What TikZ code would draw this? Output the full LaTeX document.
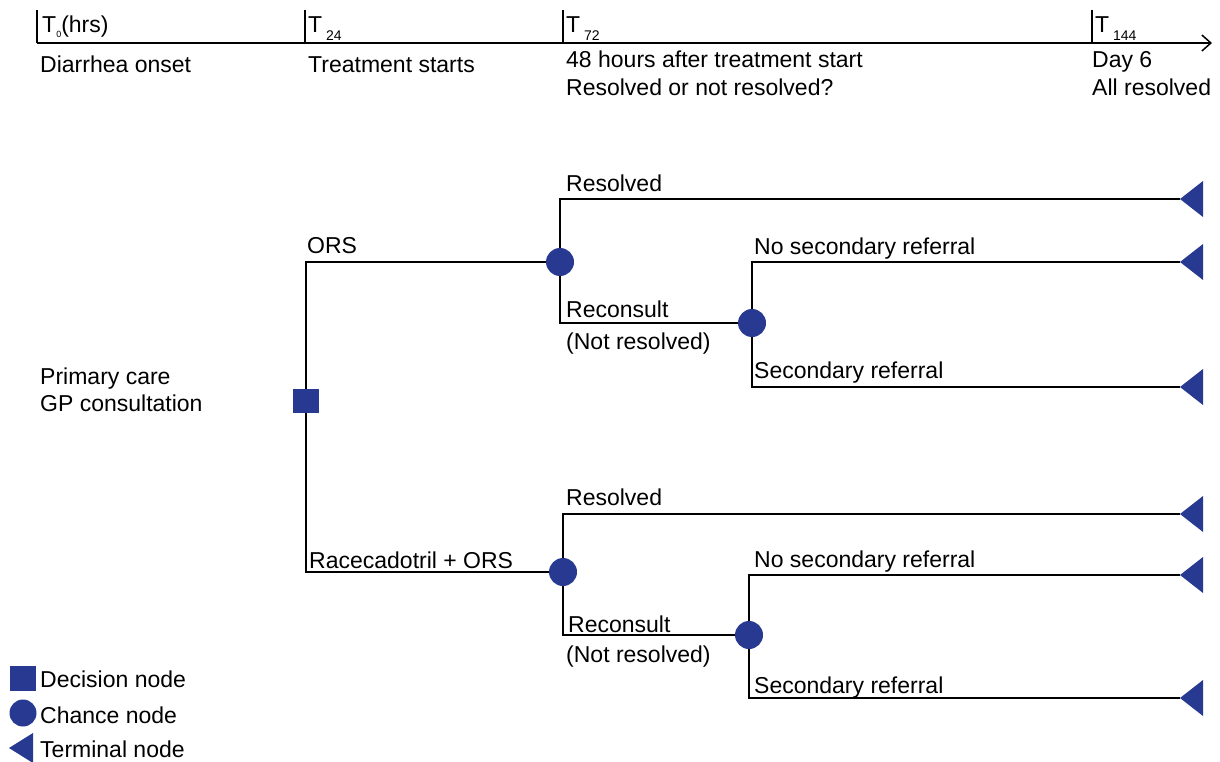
\documentclass[tikz,border=0pt]{standalone}
\usepackage{fontspec}
\setmainfont{Liberation Sans}
\usetikzlibrary{arrows.meta}
\definecolor{nodeblue}{RGB}{40,57,145}
\newcommand{\sbs}[1]{\raisebox{-7.5pt}{\fontsize{14}{14}\selectfont #1}}
\newcommand{\sbz}[1]{\raisebox{-5pt}{\fontsize{9}{9}\selectfont #1}}
\begin{document}
\begin{tikzpicture}[x=1pt,y=-1pt,
  lbl/.style={anchor=base west,inner sep=0pt,font=\fontsize{23}{23}\selectfont},
  branch/.style={line width=2pt,black},
  decision/.style={rectangle,fill=nodeblue,minimum width=26pt,minimum height=24pt,inner sep=0pt},
  chance/.style={circle,fill=nodeblue,minimum size=28pt,inner sep=0pt},
  terminal/.style={fill=nodeblue},
  tick/.style={line width=1.3pt}]
\useasboundingbox (0,0) rectangle (1220,762);
% timeline
\coordinate (tl0) at (37,43);
\coordinate (tlend) at (1212,43);
\draw[line width=2pt,-{Straight Barb[length=9pt,width=16pt,line width=1.5pt]}] (tl0) -- (tlend);
\coordinate (k0) at (37,10);
\coordinate (k24) at (305,10);
\coordinate (k72) at (563,10);
\coordinate (k144) at (1092,10);
\foreach \k in {k0,k24,k72,k144} \draw[tick] (\k) -- (\k |- tl0);
\node[lbl] (lt0) at (42,33) {T\sbz{0}(hrs)};
\node[lbl] (lt24) at (308,33) {T\,\sbs{24}};
\node[lbl] (lt72) at (566,33) {T\,\sbs{72}};
\node[lbl] (lt144) at (1095,33) {T\,\sbs{144}};
\node[lbl] (onset) at (40,73) {Diarrhea onset};
\node[lbl] (tstart) at (308,73) {Treatment starts};
\node[lbl] (h48) at (566,68) {48 hours after treatment start};
\node[lbl] (resq) at (566,96) {Resolved or not resolved?};
\node[lbl] (day6) at (1092,68) {Day 6};
\node[lbl] (allres) at (1092,96) {All resolved};
% tree nodes
\node[decision] (dec) at (306,401) {};
\node[chance] (c1) at (560,262) {};
\node[chance] (c2) at (752,323) {};
\node[chance] (c3) at (563,572) {};
\node[chance] (c4) at (749,635) {};
\coordinate (t1) at (1180,199);
\coordinate (t2) at (1180,262);
\coordinate (t3) at (1180,387);
\coordinate (t4) at (1180,514);
\coordinate (t5) at (1180,575);
\coordinate (t6) at (1180,698);
% branches
\draw[branch] (dec) |- (c1);
\draw[branch] (dec) |- (c3);
\draw[branch] (c1) |- (t1);
\draw[branch] (c1) |- (c2);
\draw[branch] (c2) |- (t2);
\draw[branch] (c2) |- (t3);
\draw[branch] (c3) |- (t4);
\draw[branch] (c3) |- (c4);
\draw[branch] (c4) |- (t5);
\draw[branch] (c4) |- (t6);
\foreach \t in {t1,t2,t3,t4,t5,t6}
  \fill[terminal] (\t) -- ++(23,-18) -- ++(0,36) -- cycle;
% labels
\node[lbl] (pc1) at (40,384) {Primary care};
\node[lbl] (pc2) at (40,411) {GP consultation};
\node[lbl] (ors) at (307,253) {ORS};
\node[lbl] (res1) at (566,192) {Resolved};
\node[lbl] (rec1) at (566,317) {Reconsult};
\node[lbl] (nr1) at (566,349) {(Not resolved)};
\node[lbl] (nsr1) at (754,254) {No secondary referral};
\node[lbl] (sr1) at (754,378) {Secondary referral};
\node[lbl] (race) at (309,568) {Racecadotril + ORS};
\node[lbl] (res2) at (566,505) {Resolved};
\node[lbl] (rec2) at (568,632) {Reconsult};
\node[lbl] (nr2) at (566,662) {(Not resolved)};
\node[lbl] (nsr2) at (754,567) {No secondary referral};
\node[lbl] (sr2) at (754,693) {Secondary referral};
% legend
\node[decision,minimum width=26pt,minimum height=25pt] (legdec) at (23,678) {};
\node[chance,minimum size=27pt] (legch) at (23,713) {};
\coordinate (legterm) at (9,748);
\fill[terminal] (legterm) -- ++(24,-15) -- ++(0,30) -- cycle;
\node[lbl] (ld) at (40,687) {Decision node};
\node[lbl] (lc) at (40,723) {Chance node};
\node[lbl] (lterm) at (40,757) {Terminal node};
\end{tikzpicture}
\end{document}
